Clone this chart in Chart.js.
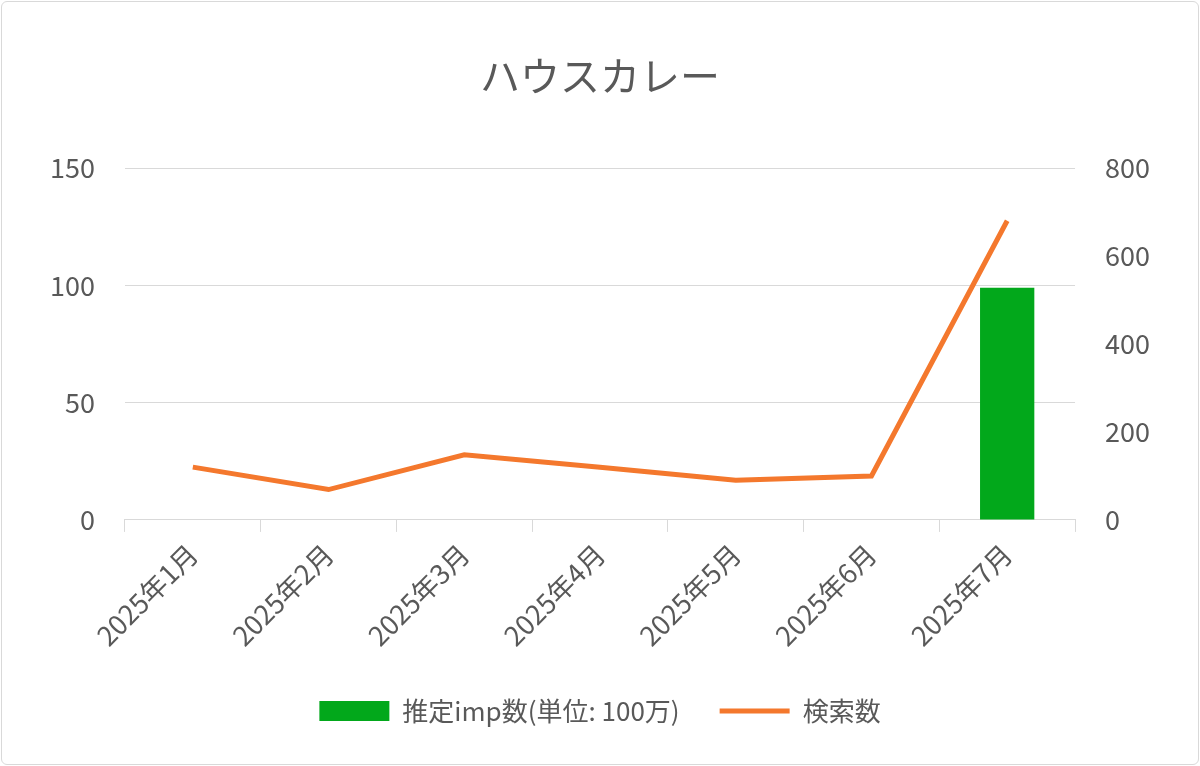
<!DOCTYPE html>
<html>
<head>
<meta charset="utf-8">
<script src="https://cdn.jsdelivr.net/npm/chart.js@4/dist/chart.umd.min.js"></script>
<style>
html,body{margin:0;padding:0;background:#fff;}
#wrap{position:absolute;left:1px;top:1px;width:1196px;height:762px;border:1px solid #d9d9d9;border-radius:6px;background:#fff;}
</style>
</head>
<body>
<div id="wrap"><canvas id="c" width="1196" height="762"></canvas></div>
<script>
// data
var months = ['2025年1月','2025年2月','2025年3月','2025年4月','2025年5月','2025年6月','2025年7月'];
var impValues = [null, null, null, null, null, null, 99];
var searchValues = [120, 69, 148, 120, 90, 100, 680];

var font = "'Noto Sans CJK JP','Noto Sans',sans-serif";
var grey = '#595959';

new Chart(document.getElementById('c'), {
	type: 'bar',
	data: {
		labels: months,
		datasets: [
			{
				type: 'line',
				label: '検索数',
				data: searchValues,
				yAxisID: 'y1',
				borderColor: '#f4782d',
				backgroundColor: '#f4782d',
				borderWidth: 5,
				pointRadius: 0,
				tension: 0,
				pointStyle: 'line',
				order: 0
			},
			{
				label: '推定imp数(単位: 100万)',
				data: impValues,
				yAxisID: 'y',
				backgroundColor: '#02a81b',
				barPercentage: 0.4,
				categoryPercentage: 1,
				pointStyle: 'rect',
				order: 1
			}
		]
	},
	options: {
		responsive: false,
		animation: false,
		layout: { padding: { left: 18, right: 18, top: 10, bottom: 30 } },
		plugins: {
			title: {
				display: true,
				text: 'ハウスカレー',
				color: grey,
				font: { family: font, size: 40, weight: 'normal' },
				padding: { top: 40, bottom: 68 }
			},
			legend: {
				position: 'bottom',
				reverse: true,
				labels: {
					usePointStyle: true,
					pointStyleWidth: 70,
					boxHeight: 20,
					color: grey,
					font: { family: font, size: 26 },
					padding: 40
				}
			},
			tooltip: { enabled: false }
		},
		scales: {
			x: {
				offset: true,
				grid: { offset: true, drawOnChartArea: false, tickLength: 12, color: '#d9d9d9' },
				border: { color: '#d9d9d9' },
				ticks: { color: grey, font: { family: font, size: 27 }, maxRotation: 45, minRotation: 45, padding: 6 }
			},
			y: {
				position: 'left',
				min: 0, max: 150,
				ticks: { stepSize: 50, color: grey, font: { family: font, size: 27 }, padding: 30 },
				grid: { color: '#d9d9d9', drawTicks: false },
				border: { display: false }
			},
			y1: {
				position: 'right',
				min: 0, max: 800,
				ticks: { stepSize: 200, color: grey, font: { family: font, size: 27 }, padding: 30 },
				grid: { drawOnChartArea: false, drawTicks: false },
				border: { display: false }
			}
		}
	}
});
</script>
</body>
</html>
